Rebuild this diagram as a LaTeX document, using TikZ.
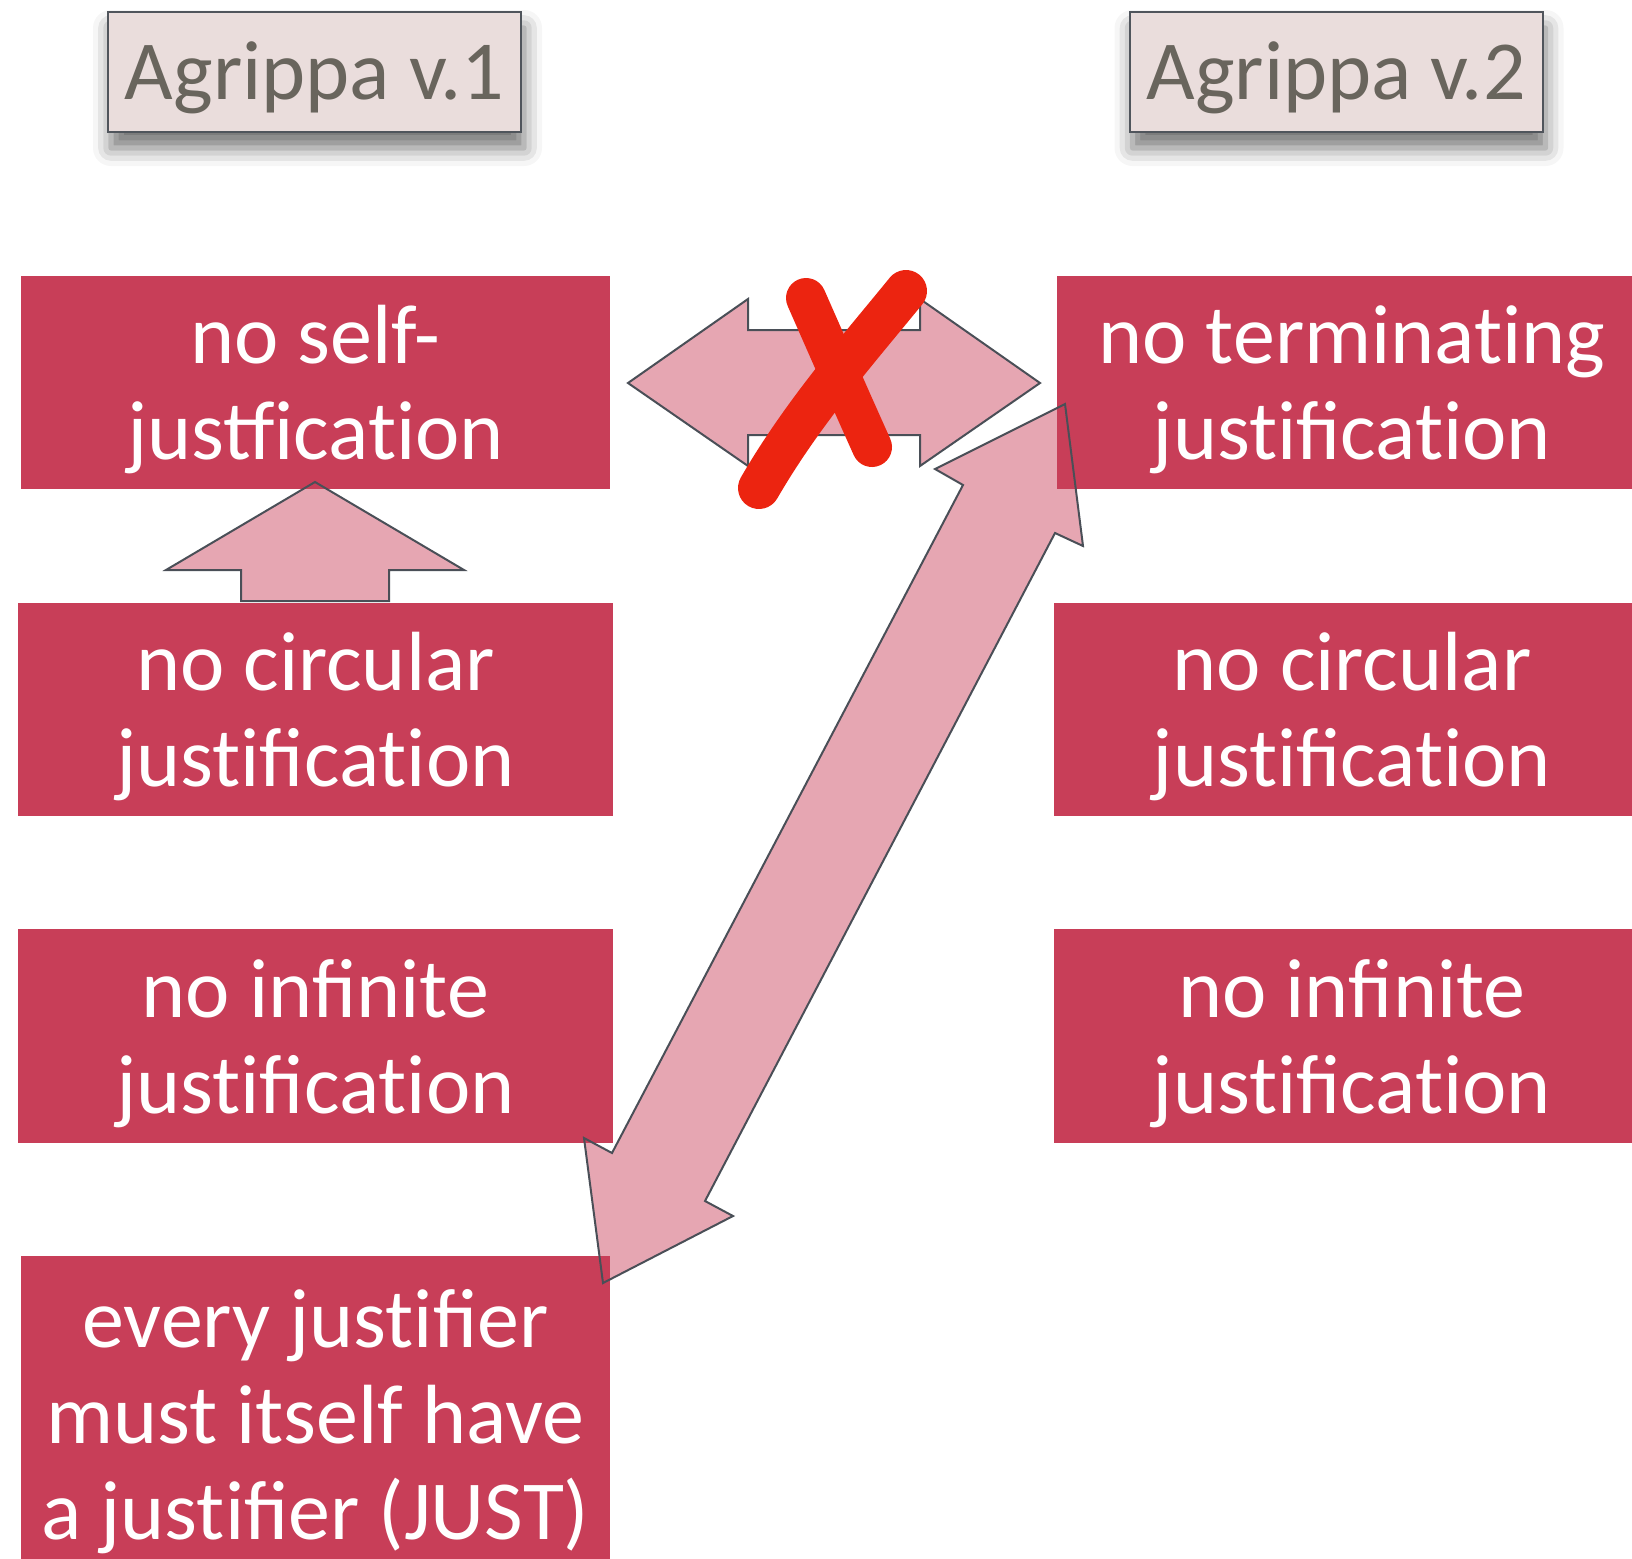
\documentclass[tikz,border=0pt]{standalone}
\usepackage{fontspec}
\setmainfont{Carlito}
\usetikzlibrary{shadows.blur}

\definecolor{boxred}{HTML}{C83E58}
\definecolor{arrowline}{HTML}{4A4F57}
\definecolor{titlefill}{HTML}{EADDDC}
\definecolor{titleedge}{HTML}{50555C}
\definecolor{titletext}{HTML}{69655D}
\definecolor{strikered}{HTML}{EC2410}

% keep "t" and "i" as separate letters
\newcommand{\tIsep}{t\kern0pt i}

\tikzset{
  claim/.style={fill=boxred, text=white, align=center, inner sep=0pt,
    font=\fontsize{84}{96}\selectfont},
  heading/.style={fill=titlefill, draw=titleedge, line width=2pt,
    inner sep=0pt, minimum width=413pt, minimum height=120pt,
    blur shadow={shadow xshift=3pt, shadow yshift=-16pt, shadow blur radius=18pt, shadow opacity=55}},
  headingtext/.style={text=titletext, inner sep=0pt, font=\fontsize{84}{100}\selectfont},
  blockarrow/.style={draw=arrowline, line width=2pt, fill=boxred, fill opacity=0.46,
    line join=miter},
  strike/.style={draw=strikered, line cap=round, line join=round}
}

\begin{document}
\begin{tikzpicture}[x=1pt, y=-1pt]
\useasboundingbox (0,0) rectangle (1632,1558);

% headings
\node[heading] (v1) at (314.5,72) {};
\node[headingtext] (v1t) at (314.5,78) {Agrippa v.1};
\node[heading] (v2) at (1336,72) {};
\node[headingtext] (v2t) at (1336,78) {Agrippa v.2};

% version 1 claims
\node[claim, minimum width=589pt, minimum height=213pt] (self) at (315.5,382.5) {};
\node[claim, fill=none] (selft) at (315.5,390) {no self-\\justfica\tIsep on};
\node[claim, minimum width=595pt, minimum height=213pt] (circ1) at (315.5,709.5) {};
\node[claim, fill=none] (circ1t) at (315.5,717) {no circular\\jus\tIsep fica\tIsep on};
\node[claim, minimum width=595pt, minimum height=214pt] (inf1) at (315.5,1036) {};
\node[claim, fill=none] (inf1t) at (315.5,1043.5) {no infinite\\jus\tIsep fica\tIsep on};
\node[claim, minimum width=589pt, minimum height=330pt] (just) at (315.5,1421) {};
\node[claim, fill=none] (justt) at (315.5,1422) {every jus\tIsep fier\\must itself have\\a jus\tIsep fier (JUST)};

% version 2 claims
\node[claim, minimum width=580pt, minimum height=213pt] (term) at (1347,382.5) {};
\node[claim, fill=none] (termt) at (1352,390) {no termina\tIsep ng\\jus\tIsep fica\tIsep on};
\node[claim, minimum width=583pt, minimum height=213pt] (circ2) at (1345.5,709.5) {};
\node[claim, fill=none] (circ2t) at (1352,717) {no circular\\jus\tIsep fica\tIsep on};
\node[claim, minimum width=583pt, minimum height=214pt] (inf2) at (1345.5,1036) {};
\node[claim, fill=none] (inf2t) at (1352,1043.5) {no infinite\\jus\tIsep fica\tIsep on};

% up arrow: no circular -> no self-justification
\path[blockarrow] (315,482) -- (464,570) -- (389,570) -- (389,601) -- (241,601)
  -- (241,570) -- (166,570) -- cycle;

% two-headed arrow between self-justification and terminating justification
\path[blockarrow] (628,383) -- (748,299) -- (748,330) -- (920,330) -- (920,299)
  -- (1040,383) -- (920,466) -- (920,435) -- (748,435) -- (748,466) -- cycle;

% two-headed arrow between terminating justification and JUST
\path[blockarrow] (1065,404) -- (1083,546) -- (1055,533) -- (705,1201) -- (733,1216)
  -- (603,1283) -- (584,1138) -- (612,1153) -- (963,485) -- (935,469) -- cycle;

% crossing-out mark
\draw[strike, line width=40pt] (806,298) .. controls (828,348) and (850,398) .. (872,447);
\draw[strike, line width=42pt] (906,291) .. controls (858,350) and (803,412) .. (759,488);

\end{tikzpicture}
\end{document}
